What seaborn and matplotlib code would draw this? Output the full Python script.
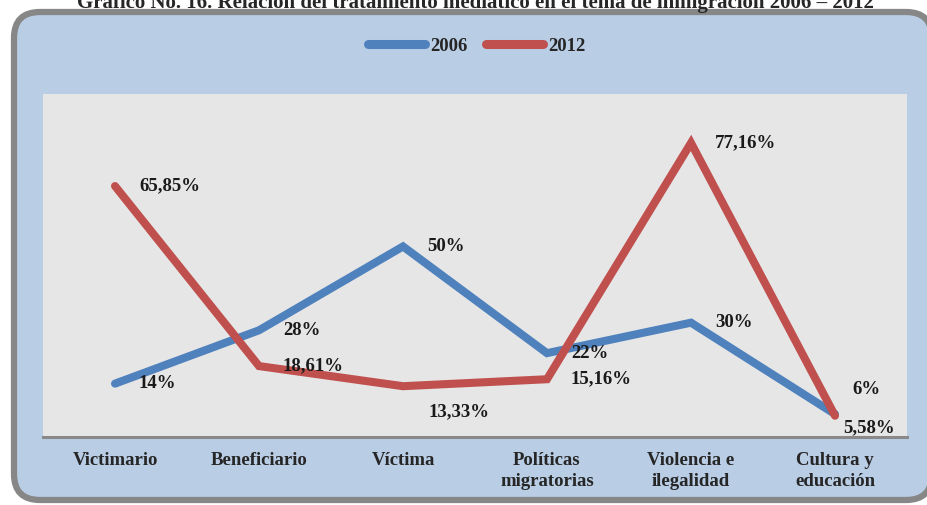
import pandas as pd
import seaborn as sns
import matplotlib.pyplot as plt
from matplotlib.lines import Line2D
from matplotlib.patches import FancyBboxPatch

categories = [
    "Victimario",
    "Beneficiario",
    "Víctima",
    "Políticas\nmigratorias",
    "Violencia e\nilegalidad",
    "Cultura y\neducación",
]
values_2006 = [14, 28, 50, 22, 30, 6]
values_2012 = [65.85, 18.61, 13.33, 15.16, 77.16, 5.58]
labels_2006 = ["14%", "28%", "50%", "22%", "30%", "6%"]
labels_2012 = ["65,85%", "18,61%", "13,33%", "15,16%", "77,16%", "5,58%"]
years = ["2006", "2012"]
title = "Gráfico No. 16. Relación del tratamiento mediático en el tema de inmigración 2006 – 2012"

colors = {"2006": "#4F81BD", "2012": "#C0504D"}

rows = []
for year, vals in zip(years, (values_2006, values_2012)):
    for cat, v in zip(categories, vals):
        rows.append({"category": cat, "value": v, "year": year})
df = pd.DataFrame(rows)

sns.set_style("white")
plt.rcParams["font.family"] = ["Liberation Serif", "DejaVu Serif"]
plt.rcParams["font.weight"] = "bold"

fig = plt.figure(figsize=(9.27, 5.05), dpi=100)
fig.patch.set_facecolor("white")

# rounded chart frame
frame = FancyBboxPatch(
    (0.14, 0.05), 9.18, 4.88,
    boxstyle="round,pad=0,rounding_size=0.26",
    transform=fig.dpi_scale_trans,
    fc="#B9CDE5", ec="#878787", lw=4.5, zorder=0,
)
fig.add_artist(frame)

# title sits half outside the picture, as in the source scan
fig.text(475 / 927, 1 - 8 / 505, title, ha="center", va="baseline", fontsize=15)

ax = fig.add_axes([43 / 927, 68 / 505, 864 / 927, 343 / 505])
ax.set_facecolor("#E6E6E6")

sns.lineplot(
    data=df, x="category", y="value", hue="year", palette=colors,
    lw=5.8, sort=False, legend=False, ax=ax,
    solid_capstyle="round", solid_joinstyle="miter",
)

ax.set_xlim(-0.5, 5.5)
ax.set_ylim(0, 90)
ax.set_yticks([])
ax.set_xlabel("")
ax.set_ylabel("")
for s in ("top", "left", "right"):
    ax.spines[s].set_visible(False)
ax.spines["bottom"].set_color("#898989")
ax.spines["bottom"].set_linewidth(2.2)
ax.tick_params(axis="x", length=0, pad=11, labelsize=13.5)
for lbl in ax.get_xticklabels():
    lbl.set_linespacing(1.25)

# data labels (offsets in pixels, mostly "right of point")
offsets_2006 = [(24, 0)] * 5 + [(17, 25)]
offsets_2012 = [(24, 0), (24, 0), (25, -26), (24, 0), (24, 0), (8, -12)]
for vals, labs, offs in ((values_2006, labels_2006, offsets_2006),
                         (values_2012, labels_2012, offsets_2012)):
    for i, (v, t, o) in enumerate(zip(vals, labs, offs)):
        ax.annotate(t, (i, v), xytext=o, textcoords="offset pixels",
                    ha="left", va="center", fontsize=13.5, color="#1a1a1a")

handles = [Line2D([], [], color=colors[y], lw=6.5, solid_capstyle="round") for y in years]
fig.legend(
    handles, years, loc="center", bbox_to_anchor=(477 / 927, 1 - 46 / 505),
    ncol=2, frameon=False, fontsize=13.5, handlelength=3.0,
    handletextpad=0.3, columnspacing=1.0,
)

plt.savefig("out.png", dpi=100)
